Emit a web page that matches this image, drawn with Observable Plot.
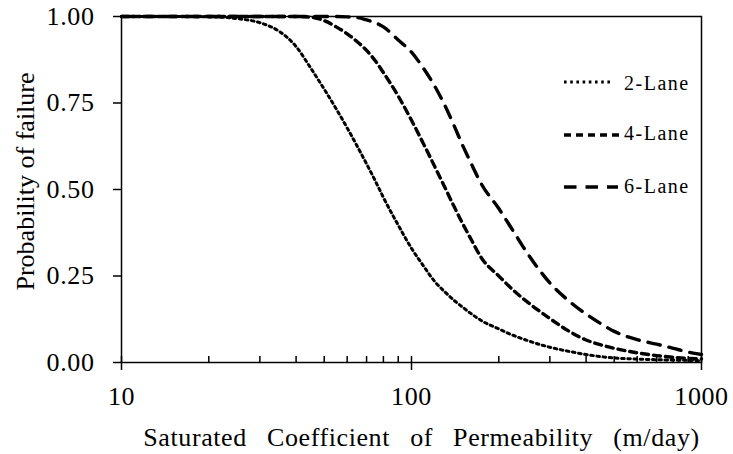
<!DOCTYPE html>
<html>
<head>
<meta charset="utf-8">
<script src="https://cdn.jsdelivr.net/npm/d3@7"></script>
<script src="https://cdn.jsdelivr.net/npm/@observablehq/plot@0.6"></script>
<style>
  html, body { margin: 0; padding: 0; background: #fff; }
  #chart svg { display: block; }
</style>
</head>
<body>
<div id="chart"></div>
<script>
// Saturated coefficient of permeability (m/day)
const permeability = [10, 15, 20, 25, 30, 35, 40, 45, 50, 55, 60, 65, 70, 75, 80, 90, 100,
  110, 120, 130, 140, 150, 160, 175, 200, 225, 250, 300, 350, 400, 450, 500, 600, 700, 800, 900, 1000];

// Probability of failure for each road width
const lane2 = [1.000, 1.000, 0.999, 0.994, 0.982, 0.957, 0.913, 0.850, 0.790, 0.733, 0.678, 0.625, 0.574, 0.525, 0.477, 0.397, 0.330,
  0.279, 0.235, 0.205, 0.180, 0.160, 0.142, 0.120, 0.097, 0.078, 0.064, 0.044, 0.032, 0.023, 0.017, 0.013, 0.010, 0.008, 0.007, 0.006, 0.005];
const lane4 = [1.000, 1.000, 1.000, 1.000, 1.000, 1.000, 1.000, 0.998, 0.988, 0.970, 0.950, 0.927, 0.902, 0.872, 0.838, 0.770, 0.700,
  0.632, 0.568, 0.508, 0.452, 0.402, 0.358, 0.300, 0.250, 0.208, 0.176, 0.127, 0.090, 0.065, 0.051, 0.041, 0.028, 0.020, 0.015, 0.012, 0.010];
const lane6 = [1.000, 1.000, 1.000, 1.000, 1.000, 1.000, 1.000, 1.000, 1.000, 1.000, 0.999, 0.997, 0.990, 0.982, 0.970, 0.932, 0.897,
  0.850, 0.800, 0.745, 0.686, 0.628, 0.578, 0.513, 0.445, 0.378, 0.318, 0.230, 0.177, 0.140, 0.112, 0.090, 0.066, 0.053, 0.041, 0.030, 0.023];

const seriesNames = ["2-Lane", "4-Lane", "6-Lane"];
const yTicks = [0, 0.25, 0.5, 0.75, 1];
const xMajorTicks = [10, 100, 1000];
const xMinorTicks = [20, 30, 40, 50, 60, 70, 80, 90, 200, 300, 400, 500, 600, 700, 800, 900];
const xTitle = "Saturated Coefficient of Permeability (m/day)";
const yTitle = "Probability of failure";

const seriesValues = [lane2, lane4, lane6];
const lineStyles = {
  "2-Lane": { dash: "2.6,3.6", width: 3 },
  "4-Lane": { dash: "7,5", width: 3.4 },
  "6-Lane": { dash: "12.5,9", width: 3.4 }
};

const W = 733, H = 454;
const M = { top: 16, right: 32, bottom: 92, left: 121 };
const innerH = H - M.top - M.bottom;

const lineMarks = seriesNames.map((name, s) => {
  const rows = permeability.map((k, i) => ({ k, p: seriesValues[s][i] }));
  return Plot.line(rows, {
    x: "k", y: "p", curve: "monotone-x",
    stroke: "black", strokeWidth: lineStyles[name].width,
    strokeDasharray: lineStyles[name].dash
  });
});

const chart = Plot.plot({
  width: W, height: H,
  marginTop: M.top, marginRight: M.right, marginBottom: M.bottom, marginLeft: M.left,
  style: { fontFamily: '"Liberation Serif", "Times New Roman", serif', background: "white", color: "black" },
  x: { type: "log", domain: [10, 1000] },
  y: { domain: [0, 1] },
  marks: [
    ...lineMarks,
    Plot.axisY(yTicks, { tickFormat: d3.format(".2f"), tickSize: 8, tickPadding: 19, fontSize: 26, strokeWidth: 1.5, label: null }),
    Plot.axisX(xMajorTicks, { tickFormat: d => String(d), tickSize: 8, tickPadding: 16, fontSize: 26, strokeWidth: 1.5, label: null }),
    // inward ticks on the x axis
    Plot.tickX([...xMinorTicks, ...xMajorTicks], { x: d => d, insetTop: innerH - 6, stroke: "black", strokeWidth: 1.5 }),
    Plot.frame({ stroke: "black", strokeWidth: 1.5 }),
    Plot.text([xTitle], { text: d => d, frameAnchor: "bottom", textAnchor: "middle", lineAnchor: "middle", dx: 10, dy: 75, fontSize: 26 }),
    Plot.text([yTitle], { text: d => d, frameAnchor: "left", textAnchor: "middle", lineAnchor: "middle", dx: -96, dy: -8, rotate: -90, fontSize: 26 })
  ]
});

document.getElementById("chart").appendChild(chart);

const svg = d3.select(chart);
svg.selectAll('[aria-label="y-axis tick label"] text, [aria-label="x-axis tick label"] text')
  .style("letter-spacing", "0.6px");
svg.selectAll("text").filter(function () { return this.textContent === xTitle; })
  .style("word-spacing", "13px").style("letter-spacing", "0.6px");

// Legend in the upper right of the plot area
const legendRows = [
  { name: "2-Lane", lineY: 82, textY: 90, x2: 612 },
  { name: "4-Lane", lineY: 135, textY: 140, x2: 622 },
  { name: "6-Lane", lineY: 187, textY: 193, x2: 618 }
];
const legend = svg.append("g").attr("aria-label", "legend");
legendRows.forEach(r => {
  legend.append("line")
    .attr("x1", 564).attr("x2", r.x2).attr("y1", r.lineY).attr("y2", r.lineY)
    .attr("stroke", "black")
    .attr("stroke-width", lineStyles[r.name].width)
    .attr("stroke-dasharray", lineStyles[r.name].dash);
  legend.append("text")
    .attr("x", 624).attr("y", r.textY)
    .attr("font-size", 20)
    .attr("fill", "black")
    .attr("text-anchor", "start")
    .style("letter-spacing", "1.5px")
    .text(r.name);
});
</script>
</body>
</html>
